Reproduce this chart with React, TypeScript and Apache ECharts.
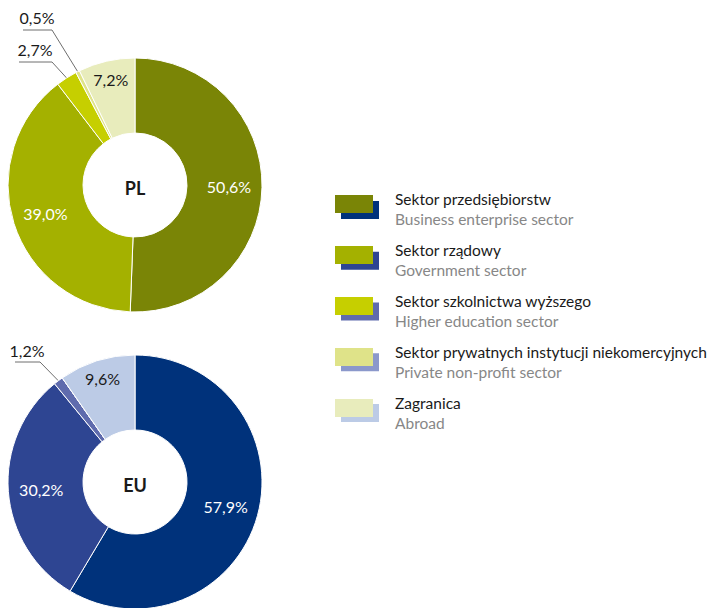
import React, { useEffect, useRef } from 'react';
import * as echarts from 'echarts';

const categoriesPL = [
  'Sektor przedsiębiorstw',
  'Sektor rządowy',
  'Sektor szkolnictwa wyższego',
  'Sektor prywatnych instytucji niekomercyjnych',
  'Zagranica',
];
const categoriesEN = [
  'Business enterprise sector',
  'Government sector',
  'Higher education sector',
  'Private non-profit sector',
  'Abroad',
];
const regionLabels = ['PL', 'EU'];
const valuesPL = [50.6, 39.0, 2.7, 0.5, 7.2];
const valuesEU = [57.9, 30.2, 1.2, 0, 9.6];

const colorsPL = ['#7a8506', '#a4b100', '#c6cf00', '#dfe389', '#e8ecbc'];
const colorsEU = ['#00327b', '#2e4592', '#5f6bad', '#8b98cb', '#bccbe6'];

const FONT = 'Lato, "Noto Sans", sans-serif';
const CENTERS: [number, number][] = [
  [135, 185],
  [135, 482],
];
const R_IN = 52;
const R_OUT = 127;

// callout placements (text centre, bend, end) for small slices: "series-dataIndex"
const callouts: Record<string, { text: [number, number]; bend: [number, number]; end: [number, number] }> = {
  '0-2': { text: [35, 49], bend: [52, 62], end: [19, 62] },
  '0-3': { text: [37, 17], bend: [52, 30], end: [23, 30] },
  '1-2': { text: [27, 350], bend: [40, 362], end: [15, 362] },
};

const fmt = (v: number) => v.toFixed(1).replace('.', ',') + '%';

function makeData(values: number[], colors: string[]) {
  return values.map((v, i) => {
    const small = v < 5;
    return {
      name: categoriesPL[i],
      value: v,
      itemStyle: { color: colors[i] },
      label:
        v === 0
          ? { show: false }
          : small
          ? { show: true, position: 'outside', color: '#1a1a1a' }
          : { show: true, position: 'inside', color: i < 2 ? '#ffffff' : '#1a1a1a' },
      labelLine: { show: small && v > 0 },
    };
  });
}

function makeSeries(si: number, values: number[], colors: string[]) {
  const [cx, cy] = CENTERS[si];
  return {
    type: 'pie',
    center: [cx, cy],
    radius: [R_IN, R_OUT],
    startAngle: 90,
    clockwise: true,
    avoidLabelOverlap: false,
    silent: true,
    itemStyle: { borderColor: '#ffffff', borderWidth: 1 },
    label: {
      show: true,
      formatter: (p: any) => fmt(p.value),
      fontSize: 16,
      fontFamily: FONT,
    },
    labelLine: { length: 10, length2: 10, lineStyle: { color: '#6e6e6e', width: 1 } },
    labelLayout: (p: any) => {
      const key = `${si}-${p.dataIndex}`;
      const c = callouts[key];
      if (c) {
        const start = p.labelLinePoints ? p.labelLinePoints[0] : [cx, cy - R_OUT];
        return {
          x: c.text[0],
          y: c.text[1],
          align: 'center',
          verticalAlign: 'middle',
          labelLinePoints: [start, c.bend, c.end],
        };
      }
      const r = p.labelRect;
      const lx = r.x + r.width / 2;
      const ly = r.y + r.height / 2;
      const dx = lx - cx;
      const dy = ly - cy;
      const d = Math.hypot(dx, dy) || 1;
      const target = p.dataIndex < 2 ? 94 : 108;
      return {
        x: cx + (dx / d) * target,
        y: cy + (dy / d) * target,
        align: 'center',
        verticalAlign: 'middle',
      };
    },
    data: makeData(values, colors),
  };
}

// swatch 38x18 drawn in the top-left of a 55x28 icon box (box sets text offset)
const ICON = 'path://M0,0H38V18H0ZM55,28';

export default function App() {
  const ref = useRef<HTMLDivElement>(null);
  useEffect(() => {
    document.body.style.margin = '0';
    if (!ref.current) return;
    const chart = echarts.init(ref.current, undefined, { renderer: 'svg' });
    chart.setOption({
      animation: false,
      backgroundColor: '#ffffff',
      legend: [
        {
          orient: 'vertical',
          left: 341,
          top: 201,
          padding: 0,
          icon: ICON,
          itemWidth: 55,
          itemHeight: 28,
          itemGap: 22.75,
          selectedMode: false,
          z: 1,
          itemStyle: { borderWidth: 0 },
          data: categoriesPL.map((n, i) => ({ name: n, itemStyle: { color: colorsEU[i], borderWidth: 0 } })),
          formatter: () => '',
          textStyle: { fontSize: 1 },
        },
        {
          orient: 'vertical',
          left: 335,
          top: 191,
          padding: 0,
          icon: ICON,
          itemWidth: 55,
          itemHeight: 28,
          itemGap: 15,
          selectedMode: false,
          z: 2,
          itemStyle: { borderWidth: 0 },
          data: categoriesPL.map((n, i) => ({ name: n, itemStyle: { color: colorsPL[i], borderWidth: 0 } })),
          formatter: (name: string) => `{a|${name}}\n{b|${categoriesEN[categoriesPL.indexOf(name)]}}`,
          textStyle: {
            fontFamily: FONT,
            rich: {
              a: { fontSize: 15.5, lineHeight: 20, color: '#1a1a1a', fontFamily: FONT },
              b: { fontSize: 15.5, lineHeight: 20, color: '#878787', fontFamily: FONT },
            },
          },
        },
      ],
      graphic: regionLabels.map((t, i) => ({
        type: 'text',
        x: CENTERS[i][0],
        y: CENTERS[i][1] + 3,
        z: 10,
        style: {
          text: t,
          fontSize: 18,
          fontWeight: 'bold',
          fontFamily: FONT,
          fill: '#1a1a1a',
          align: 'center',
          verticalAlign: 'middle',
        },
      })),
      series: [makeSeries(0, valuesPL, colorsPL), makeSeries(1, valuesEU, colorsEU)],
    });
    return () => chart.dispose();
  }, []);
  return <div ref={ref} style={{ width: 709, height: 608 }} />;
}
